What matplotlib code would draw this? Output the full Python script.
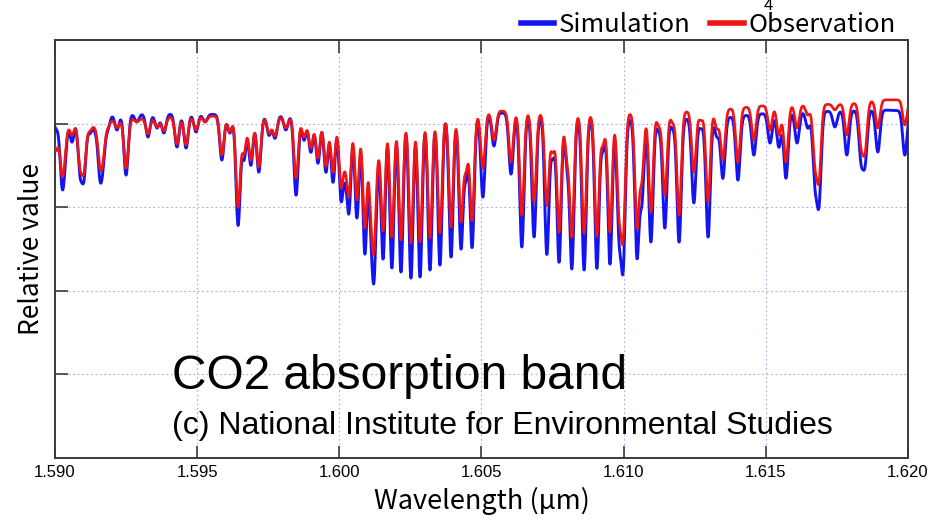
import numpy as np
import matplotlib

matplotlib.use("Agg")
import matplotlib.pyplot as plt

# Absorption line centres (um) and the minimum each curve reaches there.
line_wl = [
    1.59004, 1.59025, 1.59035, 1.59060, 1.59088, 1.59102, 1.59123, 1.59141,
    1.59158, 1.59169, 1.59186, 1.59218, 1.59250, 1.59288, 1.59327, 1.59359,
    1.59383, 1.59429, 1.59461, 1.59496, 1.59528, 1.59587, 1.59615, 1.59644,
    1.59665, 1.59689, 1.59717, 1.59753, 1.59774, 1.59812, 1.59848, 1.59876,
    1.59900, 1.59925, 1.59953, 1.59978, 1.60006, 1.60020, 1.60034, 1.60062,
    1.60090, 1.60111, 1.60122, 1.60136, 1.60154, 1.60185, 1.60217, 1.60252,
    1.60284, 1.60319, 1.60354, 1.60393, 1.60428, 1.60446, 1.60467, 1.60505,
    1.60544, 1.60604, 1.60642, 1.60685, 1.60730, 1.60751, 1.60773, 1.60801,
    1.60818, 1.60861, 1.60906, 1.60927, 1.60952, 1.60984, 1.60998, 1.61047,
    1.61064, 1.61096, 1.61124, 1.61145, 1.61173, 1.61195, 1.61247, 1.61272,
    1.61297, 1.61328, 1.61349, 1.61402, 1.61458, 1.61515, 1.61546, 1.61571,
    1.61610, 1.61648, 1.61673, 1.61687, 1.61743, 1.61785, 1.61835, 1.61849,
    1.61894, 1.61989,
]
sim_min = [
    0.987, 0.837, 0.930, 0.945, 0.867, 0.852, 0.975, 0.987,
    0.867, 0.912, 0.987, 0.981, 0.846, 1.005, 0.960, 0.987,
    0.972, 0.930, 0.927, 0.975, 1.005, 0.891, 0.972, 0.697,
    0.897, 0.876, 0.855, 0.966, 0.957, 0.981, 0.786, 0.951,
    0.915, 0.882, 0.855, 0.825, 0.786, 0.900, 0.748, 0.718,
    0.613, 0.772, 0.583, 0.936, 0.598, 0.568, 0.556, 0.538,
    0.541, 0.562, 0.577, 0.601, 0.631, 0.855, 0.631, 0.780,
    0.933, 0.849, 0.631, 0.661, 0.610, 0.906, 0.586, 0.891,
    0.571, 0.562, 0.568, 0.927, 0.580, 0.691, 0.586, 0.607,
    0.778, 0.646, 0.981, 0.688, 0.987, 0.646, 0.763, 0.987,
    0.661, 0.963, 0.837, 0.831, 0.906, 0.942, 0.930, 0.837,
    0.942, 0.987, 0.840, 0.775, 0.990, 0.906, 0.900, 0.891,
    0.915, 0.906,
]
obs_min = [
    0.921, 0.867, 0.945, 0.966, 0.885, 0.870, 0.981, 0.993,
    0.897, 0.921, 0.993, 0.987, 0.867, 1.005, 0.969, 0.990,
    0.978, 0.939, 0.936, 0.981, 1.005, 0.906, 0.975, 0.751,
    0.915, 0.891, 0.870, 0.972, 0.963, 0.987, 0.837, 0.960,
    0.927, 0.897, 0.873, 0.855, 0.825, 0.921, 0.795, 0.772,
    0.691, 0.801, 0.673, 0.951, 0.682, 0.661, 0.652, 0.643,
    0.646, 0.658, 0.673, 0.691, 0.712, 0.876, 0.712, 0.867,
    0.951, 0.885, 0.727, 0.766, 0.757, 0.921, 0.676, 0.906,
    0.667, 0.673, 0.664, 0.942, 0.676, 0.757, 0.676, 0.697,
    0.846, 0.736, 0.996, 0.786, 1.005, 0.727, 0.855, 1.011,
    0.766, 0.987, 0.891, 0.885, 0.951, 0.981, 0.966, 0.885,
    0.987, 1.026, 0.897, 0.846, 1.041, 0.966, 0.945, 0.927,
    0.987, 0.996,
]

# Continuum level between the lines.
cont_wl = [
    1.59000, 1.59158, 1.59334, 1.59510, 1.59686, 1.59862, 1.60037, 1.60213,
    1.60389, 1.60565, 1.60741, 1.60917, 1.61057, 1.61198, 1.61339, 1.61479,
    1.61620, 1.61796, 1.61901, 1.62000,
]
cont_sim = [
    1.016, 1.029, 1.029, 1.029, 1.023, 1.026, 1.029, 1.026,
    1.029, 1.032, 1.023, 1.020, 1.011, 1.014, 1.016, 1.029,
    1.035, 1.038, 1.041, 1.038,
]
cont_obs = [
    1.005, 1.011, 1.016, 1.023, 1.020, 1.020, 1.023, 1.020,
    1.023, 1.038, 1.029, 1.026, 1.032, 1.035, 1.041, 1.053,
    1.056, 1.059, 1.071, 1.071,
]

x_ticks = [1.590, 1.595, 1.600, 1.605, 1.610, 1.615, 1.620]
x_tick_labels = ["1.590", "1.595", "1.600", "1.605", "1.610", "1.615", "1.620"]
y_ticks = [0.25, 0.50, 0.75, 1.00]

BLUE = "#1414f0"
RED = "#f01414"
SPINE = "#3a3a3a"
GRID = "#a8a8e6"
JP = ["Noto Sans CJK JP", "DejaVu Sans"]


def _spectrum(wl, cont_level, minima, width=7.5e-5):
    """Continuum times one gaussian dip per listed line."""
    base = np.interp(wl, cont_wl, cont_level)
    out = base.copy()
    for c, m in zip(line_wl, minima):
        depth = 1.0 - m / np.interp(c, cont_wl, cont_level)
        out *= 1.0 - depth * np.exp(-0.5 * ((wl - c) / width) ** 2)
    return out


def main() -> None:
    fig = plt.figure(figsize=(9.3, 5.23), dpi=100)
    ax = fig.add_axes([0.0591, 0.1243, 0.9172, 0.7992])

    wl = np.linspace(1.590, 1.620, 4000)
    (l_sim,) = ax.plot(wl, _spectrum(wl, cont_sim, sim_min), color=BLUE,
                       lw=2.1, label="Simulation", zorder=3)
    (l_obs,) = ax.plot(wl, _spectrum(wl, cont_obs, obs_min), color=RED,
                       lw=1.9, label="Observation", zorder=4)

    ax.set_xlim(1.590, 1.620)
    ax.set_ylim(0, 1.25)
    ax.set_xticks(x_ticks)
    ax.set_xticklabels(x_tick_labels, family=["Liberation Sans"], fontsize=12)
    ax.set_yticks(y_ticks)
    ax.set_yticklabels([])
    ax.tick_params(axis="x", direction="in", length=9, width=1.2,
                   color=SPINE, top=True, pad=5)
    ax.tick_params(axis="y", direction="in", length=9, width=1.2,
                   color=SPINE)
    ax.grid(True, color=GRID, lw=0.8, ls=(0, (1.5, 2.5)))
    for s in ax.spines.values():
        s.set_color(SPINE)
        s.set_linewidth(1.4)

    ax.set_xlabel("Wavelength (μm)", family=JP, fontsize=19.5, labelpad=5)
    ax.set_ylabel("Relative value", family=JP, fontsize=19, labelpad=4)

    ax.text(0.1372, 0.164, "CO2 absorption band", transform=ax.transAxes,
            family=["Liberation Sans"], fontsize=34.5, color="black")
    ax.text(0.1372, 0.058, "(c) National Institute for Environmental Studies",
            transform=ax.transAxes, family=["Liberation Sans"], fontsize=23,
            color="black")

    leg = ax.legend(handles=[l_sim, l_obs], loc="lower right",
                    bbox_to_anchor=(0.986, 1.005), ncol=2, frameon=False,
                    handlelength=1.3, handletextpad=0.2, columnspacing=0.75,
                    borderaxespad=0, borderpad=0,
                    prop={"family": JP, "size": 18.5})
    for h in leg.get_lines():
        h.set_linewidth(4)

    fig.text(0.8258, 1.006, "4", ha="center", va="top", fontsize=12,
             family=JP)

    fig.savefig("out.png", dpi=100)
    plt.close(fig)


if __name__ == "__main__":
    main()
